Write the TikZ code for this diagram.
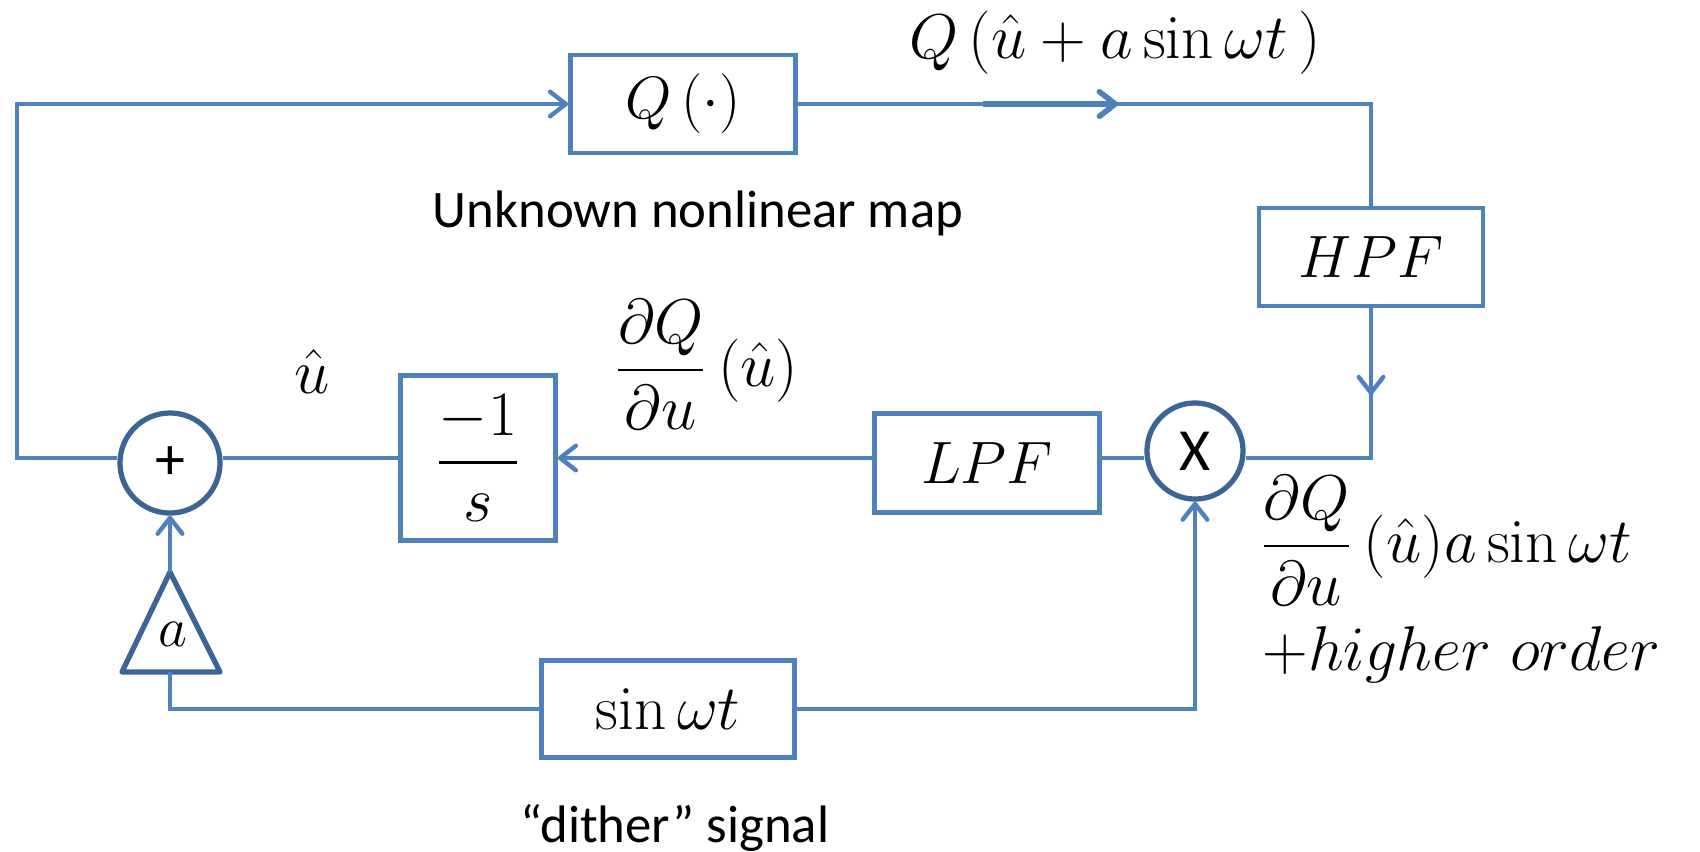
\RequirePackage{fix-cm}
\documentclass[tikz,border=0pt]{standalone}
\usepackage{amsmath}
\usepackage{fontspec}
\newfontfamily\calib{Carlito}
\usetikzlibrary{arrows.meta,calc}
\definecolor{lineblue}{HTML}{4F81BD}
\definecolor{ringblue}{HTML}{3C6496}
\tikzset{
  blk/.style={draw=lineblue, line width=1.35pt, rectangle, inner sep=0pt,
    font=\fontsize{17}{20}\selectfont},
  ring/.style={draw=ringblue, line width=1.5pt, circle, inner sep=0pt,
    font=\calib\fontsize{17}{20}\selectfont},
  tri/.style={draw=ringblue, line width=1.5pt, line join=round},
  conn/.style={draw=lineblue, line width=1.25pt},
  arr/.style={-{Straight Barb[length=4.5pt,width=7pt,round]}},
  lab/.style={inner sep=0pt, font=\fontsize{18}{21}\selectfont},
  txt/.style={inner sep=0pt, font=\calib\fontsize{15}{18}\selectfont},
}
\begin{document}
\begin{tikzpicture}[x=0.01cm,y=-0.01cm]
\useasboundingbox (0,0) rectangle (1700,851);

% blocks
\node[blk, minimum width=2.25cm, minimum height=0.98cm] (q) at (683,104) {$Q\,(\cdot)$};
\node[blk, minimum width=2.24cm, minimum height=0.98cm] (hpf) at (1371,257) {$HPF$};
\node[blk, minimum width=2.25cm, minimum height=0.99cm] (lpf) at (987,463) {$LPF$};
\node[blk, minimum width=1.55cm, minimum height=1.65cm, font=\fontsize{18}{21}\selectfont] (int) at (478,458) {$\dfrac{-1}{s}$};
\node[blk, minimum width=2.53cm, minimum height=0.97cm, font=\fontsize{18}{21}\selectfont] (sinb) at (668,709) {$\sin\omega t$};

% summing junction and multiplier
\node[ring, minimum size=1.0cm] (sum) at (170,463) {+};
\node[ring, minimum size=0.96cm] (mult) at (1195,451) {X};

% gain triangle
\coordinate (ta) at (170,572);
\coordinate (tl) at (122,672);
\coordinate (tr) at (220,672);
\coordinate (tb) at (170,672);
\draw[tri] (ta) -- (tl) -- (tr) -- cycle;
\node[inner sep=0pt, font=\fontsize{16}{19}\selectfont] (gain) at (173,634) {$a$};

% helper points
\coordinate (cornerTL) at (17,104);
\coordinate (qa1) at (983,104);
\coordinate (qa2) at (1118,104);
\coordinate (hpfarr) at (1371,395);

% feedback path to the map
\draw[conn, arr] (sum.west |- int.west) -| (cornerTL) -- (q.west);
% map output to high-pass filter
\draw[conn] (q.east) -| (hpf.north);
\draw[conn, arr, line width=1.6pt] (qa1) -- (qa2);
% high-pass filter to multiplier
\draw[conn] (hpf.south) -- (hpf.south |- int.east) -- (mult.east |- int.east);
\draw[conn, arr] (hpf.south) -- (hpfarr);
% multiplier to low-pass filter to integrator
\draw[conn] (mult.west |- int.east) -- (lpf.east |- int.east);
\draw[conn, arr] (lpf.west |- int.east) -- (int.east);
% integrator to summing junction
\draw[conn] (int.west) -- (sum.east |- int.west);
% dither branches
\draw[conn] (sinb.west) -| (tb);
\draw[conn, arr] (sinb.east) -| (mult.south);
\draw[conn, arr] (ta) -- (sum.south);

% labels
\node[lab, anchor=base] (lq) at (1115,58) {$Q\,(\hat{u}+a\sin\omega t\,)$};
\node[txt, anchor=base] (lmap) at (698,227) {Unknown nonlinear map};
\node[lab, anchor=base] (luhat) at (312,393) {$\hat{u}$};
\node[lab, anchor=base] (lgrad) at (706,386) {$\dfrac{\partial Q}{\partial u}\,(\hat{u})$};
\node[lab, anchor=base west] (ldem1) at (1259,562) {$\dfrac{\partial Q}{\partial u}\,(\hat{u})a\sin\omega t$};
\node[lab, anchor=base west] (ldem2) at (1262,670) {$+higher\ order$};
\node[txt, anchor=base] (ldither) at (675,842) {“dither” signal};
\end{tikzpicture}
\end{document}
